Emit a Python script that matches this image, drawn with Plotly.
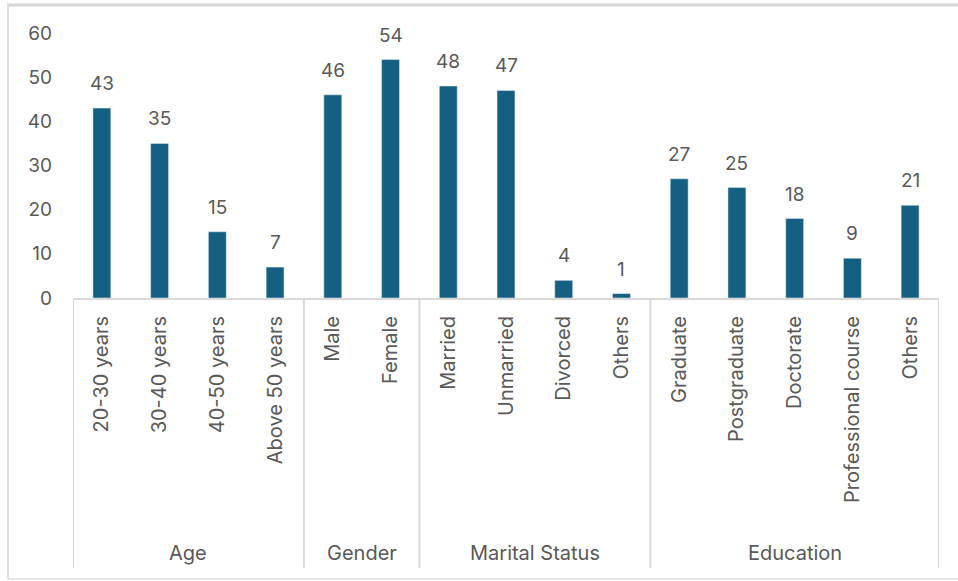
import plotly.graph_objects as go

groups = ["Age", "Gender", "Marital Status", "Education"]
group_sizes = [4, 2, 4, 5]
categories = ["20-30 years", "30-40 years", "40-50 years", "Above 50 years",
              "Male", "Female",
              "Married", "Unmarried", "Divorced", "Others",
              "Graduate", "Postgraduate", "Doctorate", "Professional course", "Others"]
values = [43, 35, 15, 7, 46, 54, 48, 47, 4, 1, 27, 25, 18, 9, 21]
y_ticks = [0, 10, 20, 30, 40, 50, 60]

BAR = "#156082"
TXT = "#595959"
GRID = "#d9d9d9"
FONT = "Inter, Noto Sans, sans-serif"

W, H = 958, 581
L, R, T, B = 73, 939, 33, 298
pw, ph = R - L, B - T

xs = list(range(len(categories)))

fig = go.Figure(go.Bar(x=xs, y=values, marker_color=BAR, width=0.31))

def py(ypix):
    return (B - ypix) / ph

def px(xpix):
    return (xpix - L) / pw

shapes = []
bounds = [-0.5]
for s in group_sizes:
    bounds.append(bounds[-1] + s)
for b in bounds:
    shapes.append(dict(type="line", xref="x", yref="paper", x0=b, x1=b,
                       y0=0, y1=py(568), line=dict(color=GRID, width=2)))
shapes.append(dict(type="line", xref="paper", yref="paper", x0=px(7), x1=px(958),
                   y0=py(5), y1=py(5), line=dict(color="#d6d6d6", width=3)))
shapes.append(dict(type="line", xref="paper", yref="paper", x0=px(8), x1=px(8),
                   y0=py(5), y1=py(579), line=dict(color="#e0e0e0", width=2)))
shapes.append(dict(type="line", xref="paper", yref="paper", x0=px(7), x1=px(958),
                   y0=py(579), y1=py(579), line=dict(color="#e6e6e6", width=2)))

annotations = []
for x, v in zip(xs, values):
    annotations.append(dict(x=x, y=v, xref="x", yref="y", text=str(v),
                            showarrow=False, yanchor="bottom", xanchor="center",
                            yshift=11, font=dict(size=19, color=TXT, family=FONT)))
for i, g in enumerate(groups):
    c = (bounds[i] + bounds[i + 1]) / 2
    annotations.append(dict(x=c, y=py(553), xref="x", yref="paper", text=g,
                            showarrow=False, font=dict(size=20, color=TXT, family=FONT),
                            xanchor="center", yanchor="middle"))

fig.update_layout(
    width=W, height=H,
    margin=dict(l=L, r=W - R, t=T, b=H - B),
    paper_bgcolor="white", plot_bgcolor="white",
    showlegend=False,
    shapes=shapes, annotations=annotations,
    font=dict(family=FONT, color=TXT),
)
fig.update_xaxes(
    range=[-0.5, len(categories) - 0.5], tickmode="array", tickvals=xs,
    ticktext=categories, tickangle=-90, showgrid=False, zeroline=False,
    showline=True, linecolor=GRID, linewidth=2, ticks="",
    ticklabelstandoff=8,
    tickfont=dict(size=20, color=TXT, family=FONT),
)
fig.update_yaxes(
    range=[0, 60], tickmode="array", tickvals=y_ticks, showgrid=False,
    zeroline=False, showline=False, ticks="", ticklabelstandoff=20,
    tickfont=dict(size=19, color=TXT, family=FONT),
)

fig.write_html("out.html")
